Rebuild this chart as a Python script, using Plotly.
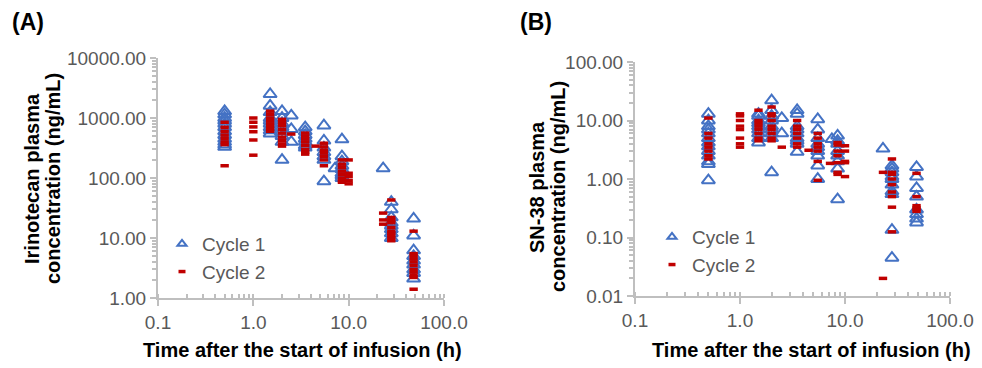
import plotly.graph_objects as go

# ---------------- data ----------------
# Panel A: Irinotecan, Cycle 1
A_C1_TIMES = [0.5, 1.5, 2.0, 2.5, 3.5, 5.5, 7.2, 8.5, 23, 28, 48]
A_C1_VALUES = [
    [1300, 1150, 1000, 900, 800, 700, 600, 520, 450, 400, 360, 330],
    [2500, 1600, 1250, 1000, 900, 800, 700, 620, 550],
    [1300, 1000, 820, 700, 600, 500, 400, 200],
    [1100, 650, 400],
    [700, 600, 520, 450, 400, 350, 320],
    [750, 420, 320, 270, 230, 200, 88],
    [145],
    [440, 230, 190, 160, 140, 120, 110, 100],
    [145],
    [40, 30, 22, 18, 16, 14, 12, 10],
    [21, 11, 6.2, 5, 4.2, 3.6, 3, 2.6, 2.1],
]
# Panel A: Irinotecan, Cycle 2
A_C2_TIMES = [0.5, 1.0, 1.5, 2.0, 2.5, 3.5, 4.5, 5.5, 8.5, 10, 23, 28, 48]
A_C2_VALUES = [
    [850, 700, 600, 520, 460, 400, 360, 160],
    [1000, 850, 710, 590, 430, 240],
    [1300, 1150, 1000, 900, 800, 720, 650, 600],
    [950, 850, 750, 650, 560, 480, 420, 370, 340],
    [540],
    [560, 500, 450, 400, 350, 300, 270, 250],
    [340],
    [380, 330, 290, 260, 230, 200, 160],
    [200, 170, 150, 130, 115, 100, 90, 85],
    [200, 120, 105, 90, 80],
    [26, 20, 17],
    [43, 22, 20, 18, 15, 13, 12, 11, 10, 9],
    [13, 5.5, 5, 4.5, 4, 3.5, 3, 2.7, 2.4, 2.2, 1.4],
]
# Panel B: SN-38, Cycle 1
B_C1_TIMES = [0.5, 1.5, 2.0, 2.5, 3.5, 5.5, 7.5, 8.5, 23, 28, 48]
B_C1_VALUES = [
    [13, 10, 8, 7, 6, 5, 4.2, 3.6, 3, 2.5, 2, 1.8, 0.95],
    [13, 12, 10, 9, 8, 7, 6, 5, 4.2],
    [22, 15, 12, 10, 8, 7, 6, 5, 1.3],
    [11, 6],
    [15, 13, 8, 7, 6, 5, 4.5, 4, 2.9],
    [10.5, 7, 5, 4, 3.5, 3, 2.5, 1.7, 1.0],
    [4.8],
    [5.5, 4.5, 4, 3, 2.5, 2, 1.5, 0.45],
    [3.3],
    [1.7, 1.5, 1.3, 1.1, 1.0, 0.8, 0.62, 0.55, 0.135, 0.045],
    [1.6, 1.1, 0.7, 0.5, 0.3, 0.25, 0.21, 0.18],
]
# Panel B: SN-38, Cycle 2
B_C2_TIMES = [0.5, 1.0, 1.5, 2.0, 2.5, 3.5, 4.5, 5.5, 7.2, 8.5, 10, 23, 28, 48]
B_C2_VALUES = [
    [11, 6, 5, 4, 3.5, 3, 2.5, 2.2],
    [13, 12, 10, 8, 7, 5, 4, 3.5],
    [15, 10, 9, 8, 7, 6, 5, 4.5],
    [17, 13, 12, 10, 8, 7, 6, 5, 4.5],
    [3.5],
    [10, 8, 7, 6, 5, 4, 3.5],
    [3.1],
    [6, 5, 4, 3.5, 3, 2, 0.95],
    [1.85],
    [4.2, 3.8, 3, 2.5, 1.9, 1.3, 1.2],
    [3.7, 3, 2, 1.9, 1.1],
    [1.3, 0.02],
    [2.2, 1.3, 1.2, 1.0, 0.8, 0.6, 0.5, 0.33, 0.125],
    [1.25, 0.5, 0.35, 0.32, 0.3, 0.28],
]
SERIES_NAMES = ["Cycle 1", "Cycle 2"]
X_TICKS = [0.1, 1, 10, 100]
A_Y_TICKS = [1, 10, 100, 1000, 10000]
B_Y_TICKS = [0.01, 0.1, 1, 10, 100]


def flatten(times, values):
    xs, ys = [], []
    for t, vs in zip(times, values):
        for v in vs:
            xs.append(t)
            ys.append(v)
    return xs, ys


BLUE = "#4472C4"
RED = "#C00000"
GREY_TXT = "#595959"
AXIS_C = "#BFBFBF"
FONT = "Arial, Liberation Sans, sans-serif"

W, H = 982, 368

fig = go.Figure()


def add_panel(xref, yref, c1t, c1v, c2t, c2v, legend):
    x1, y1 = flatten(c1t, c1v)
    x2, y2 = flatten(c2t, c2v)
    fig.add_trace(go.Scatter(
        x=x1, y=y1, mode="markers", xaxis=xref, yaxis=yref, showlegend=False,
        marker=dict(symbol="triangle-up-open", size=11.5, color=BLUE,
                    line=dict(width=2, color=BLUE)),
        name=SERIES_NAMES[0], hoverinfo="x+y"))
    fig.add_trace(go.Scatter(
        x=x2, y=y2, mode="markers", xaxis=xref, yaxis=yref, showlegend=False,
        marker=dict(symbol="line-ew", size=6, color=RED,
                    line=dict(width=3.5, color=RED)),
        name=SERIES_NAMES[1], hoverinfo="x+y"))
    # legend entries (no data)
    fig.add_trace(go.Scatter(
        x=[None], y=[None], mode="markers", xaxis=xref, yaxis=yref,
        legend=legend, name=SERIES_NAMES[0],
        marker=dict(symbol="triangle-up-open", size=8, color=BLUE,
                    line=dict(width=2, color=BLUE))))
    fig.add_trace(go.Scatter(
        x=[None], y=[None], mode="markers", xaxis=xref, yaxis=yref,
        legend=legend, name=SERIES_NAMES[1],
        marker=dict(symbol="line-ew", size=5, color=RED,
                    line=dict(width=3.5, color=RED))))


add_panel("x", "y", A_C1_TIMES, A_C1_VALUES, A_C2_TIMES, A_C2_VALUES, "legend")
add_panel("x2", "y2", B_C1_TIMES, B_C1_VALUES, B_C2_TIMES, B_C2_VALUES, "legend2")


def px_x(p):
    return p / W


def px_y(p):
    return 1 - p / H


xaxis_common = dict(
    type="log", showgrid=False, zeroline=False, showline=True, automargin=False,
    linecolor=AXIS_C, linewidth=2, ticks="outside", ticklen=6, tickwidth=1.5,
    tickcolor=AXIS_C, tickvals=X_TICKS, tickformat=".1f",
    tickfont=dict(family=FONT, size=19, color=GREY_TXT),
    minor=dict(ticks="inside", ticklen=4, tickwidth=1.5, tickcolor=AXIS_C,
               showgrid=False, dtick="D1"),
    range=[-1, 2], fixedrange=True,
)
yaxis_common = dict(
    type="log", showgrid=False, zeroline=False, showline=True, automargin=False,
    linecolor=AXIS_C, linewidth=2, ticks="outside", ticklen=6, tickwidth=1.5,
    tickcolor=AXIS_C, tickformat=".2f",
    tickfont=dict(family=FONT, size=19, color=GREY_TXT),
    minor=dict(ticks="outside", ticklen=4, tickwidth=1.5, tickcolor=AXIS_C,
               showgrid=False, dtick="D1"),
    fixedrange=True,
)

fig.update_layout(
    width=W, height=H,
    margin=dict(l=0, r=0, t=0, b=0, autoexpand=False),
    paper_bgcolor="white", plot_bgcolor="white",
    font=dict(family=FONT, color=GREY_TXT),
    xaxis=dict(xaxis_common, domain=[px_x(158), px_x(444)], anchor="y"),
    yaxis=dict(yaxis_common, domain=[px_y(298), px_y(58)], anchor="x",
               range=[0, 4], tickvals=A_Y_TICKS),
    xaxis2=dict(xaxis_common, domain=[px_x(635), px_x(950)], anchor="y2"),
    yaxis2=dict(yaxis_common, domain=[px_y(296), px_y(62)], anchor="x2",
                range=[-2, 2], tickvals=B_Y_TICKS),
    legend=dict(x=px_x(162), y=px_y(225), xanchor="left", yanchor="top",
                bgcolor="rgba(0,0,0,0)", itemwidth=30, tracegroupgap=0,
                font=dict(family=FONT, size=19, color=GREY_TXT)),
    legend2=dict(x=px_x(652), y=px_y(218), xanchor="left", yanchor="top",
                 bgcolor="rgba(0,0,0,0)", itemwidth=30, tracegroupgap=0,
                 font=dict(family=FONT, size=19, color=GREY_TXT)),
)

TITLE_FONT = dict(family=FONT, size=20, color="#000000")
annotations = [
    dict(text="<b>(A)</b>", x=px_x(10), y=px_y(22), xanchor="left", yanchor="middle",
         font=dict(family=FONT, size=23, color="#000000")),
    dict(text="<b>(B)</b>", x=px_x(518), y=px_y(22), xanchor="left", yanchor="middle",
         font=dict(family=FONT, size=23, color="#000000")),
    dict(text="<b>Time after the start of infusion (h)</b>", x=px_x(302), y=px_y(350),
         xanchor="center", yanchor="middle", font=TITLE_FONT),
    dict(text="<b>Time after the start of infusion (h)</b>", x=px_x(811), y=px_y(350),
         xanchor="center", yanchor="middle", font=TITLE_FONT),
    dict(text="<b>Irinotecan plasma</b>", x=px_x(32), y=px_y(179),
         xanchor="center", yanchor="middle", textangle=-90, font=TITLE_FONT),
    dict(text="<b>concentration (ng/mL)</b>", x=px_x(53), y=px_y(179),
         xanchor="center", yanchor="middle", textangle=-90, font=TITLE_FONT),
    dict(text="<b>SN-38 plasma</b>", x=px_x(537), y=px_y(187),
         xanchor="center", yanchor="middle", textangle=-90, font=TITLE_FONT),
    dict(text="<b>concentration (ng/mL)</b>", x=px_x(558), y=px_y(187),
         xanchor="center", yanchor="middle", textangle=-90, font=TITLE_FONT),
]
for a in annotations:
    a.update(xref="paper", yref="paper", showarrow=False)
fig.update_layout(annotations=annotations)

fig.write_html(
    "out.html",
    config={"displayModeBar": False},
    post_script="document.body.style.margin='0px';document.body.style.overflow='hidden';",
)
